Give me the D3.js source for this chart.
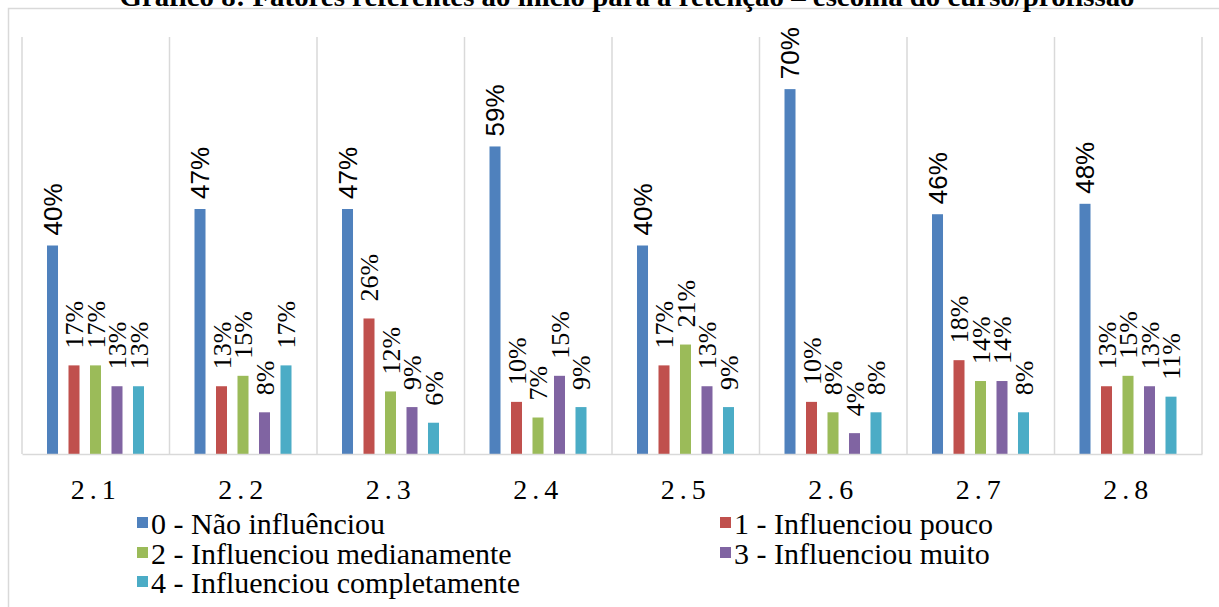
<!DOCTYPE html>
<html>
<head>
<meta charset="utf-8">
<script src="https://cdn.jsdelivr.net/npm/d3@7"></script>
<style>
  body { margin: 0; background: #fff; }
  svg { display: block; }
</style>
</head>
<body>
<svg id="chart" width="1219" height="607"></svg>
<script>
// Categories (questionnaire items) and the five answer levels
const categories = ["2.1", "2.2", "2.3", "2.4", "2.5", "2.6", "2.7", "2.8"];
const seriesNames = [
  "0 - Não influênciou",
  "1 - Influenciou pouco",
  "2 - Influenciou medianamente",
  "3 - Influenciou muito",
  "4 - Influenciou completamente"
];
const seriesColors = ["#4F81BD", "#C0504D", "#9BBB59", "#8064A2", "#4BACC6"];

// Percentages per answer level, one value per category
const naoInfluenciou           = [40, 47, 47, 59, 40, 70, 46, 48];
const influenciouPouco         = [17, 13, 26, 10, 17, 10, 18, 13];
const influenciouMedianamente  = [17, 15, 12,  7, 21,  8, 14, 15];
const influenciouMuito         = [13,  8,  9, 15, 13,  4, 14, 13];
const influenciouCompletamente = [13, 17,  6,  9,  9,  8,  8, 11];

const seriesValues = [naoInfluenciou, influenciouPouco, influenciouMedianamente,
                      influenciouMuito, influenciouCompletamente];

const titleText = "Gráfico 8: Fatores referentes ao início para a retenção – escolha do curso/profissão";

const SERIF = "Liberation Serif";
const SANS = "Liberation Sans";

const svg = d3.select("#chart");

// Outer chart frame
svg.append("rect")
  .attr("x", 8.5).attr("y", 8.5)
  .attr("width", 1300).attr("height", 700)
  .attr("fill", "none").attr("stroke", "#d9d9d9").attr("stroke-width", 1.5);

// Caption above the frame
svg.append("text")
  .attr("x", 627).attr("y", 6)
  .attr("text-anchor", "middle")
  .attr("textLength", 1015)
  .attr("lengthAdjust", "spacingAndGlyphs")
  .style("font-family", SERIF)
  .style("font-weight", "bold")
  .style("font-size", "27px")
  .text(titleText);

const plot = { left: 22, right: 1202, top: 37, bottom: 454 };

const x0 = d3.scaleBand().domain(categories).range([plot.left, plot.right]).padding(0);
const x1 = d3.scaleBand().domain(d3.range(seriesNames.length))
  .range([25, 122]).paddingInner(0.488).paddingOuter(0);
const y = d3.scaleLinear().domain([0, 80]).range([plot.bottom, plot.top]);

// Vertical separators between categories
const g = svg.append("g");
g.selectAll("line.sep")
  .data(categories.concat(["end"]))
  .join("line")
  .attr("class", "sep")
  .attr("x1", (d, i) => i < categories.length ? x0(d) : plot.right)
  .attr("x2", (d, i) => i < categories.length ? x0(d) : plot.right)
  .attr("y1", plot.top).attr("y2", plot.bottom)
  .attr("stroke", "#d9d9d9").attr("stroke-width", 1.5);

// Bars
const rows = [];
categories.forEach((c, ci) => {
  seriesValues.forEach((vals, si) => rows.push({ c, si, v: vals[ci] }));
});

g.selectAll("rect.bar")
  .data(rows)
  .join("rect")
  .attr("class", "bar")
  .attr("x", d => x0(d.c) + x1(d.si))
  .attr("width", x1.bandwidth())
  .attr("y", d => y(d.v))
  .attr("height", d => y(0) - y(d.v))
  .attr("fill", d => seriesColors[d.si]);

// Value labels, rotated, above each bar
g.selectAll("text.lbl")
  .data(rows)
  .join("text")
  .attr("class", "lbl")
  .attr("transform", d => {
    const cx = x0(d.c) + x1(d.si) + x1.bandwidth() / 2;
    const gap = d.si === 0 ? 10 : 17;
    return `translate(${cx},${y(d.v) - gap}) rotate(-90)`;
  })
  .attr("dy", "0.35em")
  .style("font-family", d => d.si === 0 ? SANS : SERIF)
  .style("font-size", d => d.si === 0 ? "26px" : "26px")
  .attr("fill", "#000")
  .text(d => d.v + "%");

// Category axis
const xAxis = svg.append("g")
  .attr("transform", `translate(0,${plot.bottom})`)
  .call(d3.axisBottom(x0).tickSize(0).tickPadding(0));
xAxis.select(".domain").attr("stroke", "#d9d9d9").attr("stroke-width", 1.5);
xAxis.selectAll(".tick text")
  .attr("y", 45)
  .attr("dy", 0)
  .style("font-family", SERIF)
  .style("font-size", "28px")
  .style("letter-spacing", "5px")
  .attr("fill", "#000");

// Legend: two columns, three rows
const legendX = [137, 720];
const legendY = [523, 553, 582];
const legend = svg.append("g");
seriesNames.forEach((name, i) => {
  const lx = legendX[i % 2];
  const ly = legendY[Math.floor(i / 2)];
  legend.append("rect")
    .attr("x", lx).attr("y", ly - 6)
    .attr("width", 11).attr("height", 11)
    .attr("fill", seriesColors[i]);
  legend.append("text")
    .attr("x", lx + 14).attr("y", ly)
    .attr("dy", "0.35em")
    .style("font-family", SERIF)
    .style("font-size", "30px")
    .attr("fill", "#000")
    .text(name);
});
</script>
</body>
</html>
